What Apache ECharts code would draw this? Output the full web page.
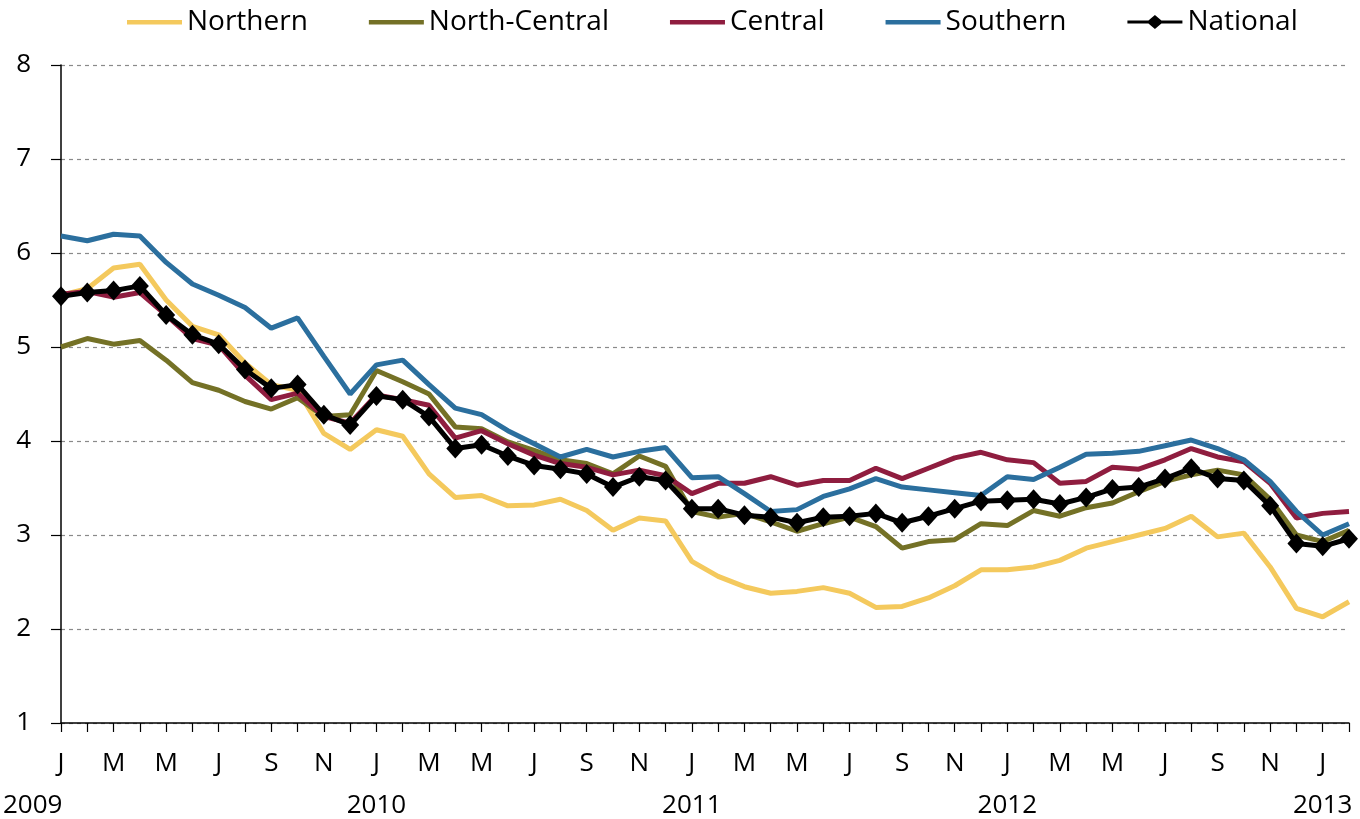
<!DOCTYPE html>
<html>
<head>
<meta charset="utf-8">
<script src="https://cdn.jsdelivr.net/npm/echarts@6/dist/echarts.min.js"></script>
<style>
html,body{margin:0;padding:0;background:#fff;}
#chart{width:1360px;height:819px;}
</style>
</head>
<body>
<div id="chart"></div>
<script>
const monthLetters = ['J','F','M','A','M','J','J','A','S','O','N','D'];
const yearLabels = ['2009','2010','2011','2012','2013'];
const nMonths = 50; // Jan 2009 .. Feb 2013
const categories = [];
const yearCats = [];
for (let i = 0; i < nMonths; i++) {
  categories.push(monthLetters[i % 12]);
  yearCats.push(yearLabels[Math.floor(i / 12)]);
}

const northern = [5.55,5.62,5.84,5.88,5.50,5.22,5.13,4.83,4.60,4.54,
  4.08,3.91,4.12,4.05,3.65,3.40,3.42,3.31,3.32,3.38,
  3.26,3.05,3.18,3.15,2.72,2.56,2.45,2.38,2.40,2.44,
  2.38,2.23,2.24,2.33,2.46,2.63,2.63,2.66,2.73,2.86,
  2.93,3.00,3.07,3.20,2.98,3.02,2.66,2.22,2.13,2.29];
const northCentral = [5.00,5.09,5.03,5.07,4.86,4.62,4.54,4.42,4.34,4.46,
  4.26,4.28,4.75,4.63,4.50,4.15,4.13,3.99,3.90,3.80,
  3.76,3.65,3.84,3.73,3.25,3.19,3.23,3.14,3.04,3.12,
  3.19,3.09,2.86,2.93,2.95,3.12,3.10,3.26,3.20,3.29,
  3.34,3.46,3.57,3.64,3.69,3.64,3.38,3.00,2.93,3.05];
const central = [5.56,5.59,5.53,5.58,5.34,5.09,5.02,4.70,4.44,4.51,
  4.26,4.19,4.49,4.44,4.38,4.03,4.11,3.97,3.85,3.76,
  3.72,3.64,3.69,3.63,3.44,3.55,3.55,3.62,3.53,3.58,
  3.58,3.71,3.60,3.71,3.82,3.88,3.80,3.77,3.55,3.57,
  3.72,3.70,3.80,3.92,3.83,3.78,3.55,3.18,3.23,3.25];
const southern = [6.18,6.13,6.20,6.18,5.90,5.67,5.55,5.42,5.20,5.31,
  4.90,4.50,4.81,4.86,4.60,4.35,4.28,4.11,3.97,3.83,
  3.91,3.83,3.89,3.93,3.61,3.62,3.44,3.25,3.27,3.41,
  3.49,3.60,3.51,3.48,3.45,3.42,3.62,3.59,3.72,3.86,
  3.87,3.89,3.95,4.01,3.92,3.80,3.57,3.25,3.00,3.12];
const national = [5.54,5.58,5.60,5.65,5.34,5.13,5.03,4.76,4.56,4.60,
  4.28,4.17,4.48,4.44,4.26,3.92,3.96,3.84,3.74,3.70,
  3.65,3.51,3.62,3.58,3.28,3.28,3.21,3.19,3.13,3.19,
  3.20,3.23,3.13,3.20,3.28,3.36,3.37,3.38,3.33,3.40,
  3.49,3.51,3.60,3.71,3.60,3.58,3.31,2.91,2.88,2.96];

const FONT = 'Open Sans';
const chart = echarts.init(document.getElementById('chart'));

const BAR_ICON = 'path://M0,0 L0.01,0 Z M0,5 L55,5 L55,9.5 L0,9.5 Z M0,14 L0.01,14 Z';
const NAT_ICON = 'path://M0,5.6 L21,5.6 L27.5,0 L34,5.6 L55,5.6 L55,8.4 L34,8.4 L27.5,14 L21,8.4 L0,8.4 Z';

function lineSeries(name, data, color) {
  return {
    name: name, type: 'line', data: data, symbol: 'none', smooth: false,
    lineStyle: { color: color, width: 5 }, itemStyle: { color: color },
    emphasis: { disabled: true }
  };
}

chart.setOption({
  animation: false,
  textStyle: { fontFamily: FONT, color: '#000' },
  legend: {
    top: 3, left: 122, padding: [5, 5],
    itemGap: 61, itemWidth: 55, itemHeight: 14,
    textStyle: { fontFamily: FONT, fontSize: 28, color: '#000' },
    data: [
      { name: 'Northern', icon: BAR_ICON },
      { name: 'North-Central', icon: BAR_ICON },
      { name: 'Central', icon: BAR_ICON },
      { name: 'Southern', icon: BAR_ICON },
      { name: 'National', icon: NAT_ICON }
    ]
  },
  grid: { left: 60, right: 11, top: 65, bottom: 96, containLabel: false },
  xAxis: [{
    type: 'category', data: categories, boundaryGap: false,
    axisLine: { lineStyle: { color: '#000', width: 1.5 } },
    axisTick: { show: true, interval: 0, length: 9, lineStyle: { color: '#000', width: 1.2 } },
    axisLabel: { interval: 1, margin: 28, fontFamily: FONT, fontSize: 26, color: '#000' },
    splitLine: { show: false }
  }, {
    type: 'category', data: yearCats, boundaryGap: false, position: 'bottom', offset: 42,
    gridIndex: 0,
    axisLine: { show: false }, axisTick: { show: false },
    axisLabel: {
      interval: function (idx) { return idx % 12 === 0; },
      margin: 28, fontFamily: FONT, fontSize: 26, color: '#000',
      formatter: function (v, idx) { return idx === 0 ? '{f|' + v + '}' : v; },
      rich: { f: { width: 116, align: 'left', fontFamily: FONT, fontSize: 26, color: '#000' } }
    }
  }],
  yAxis: {
    type: 'value', min: 1, max: 8, interval: 1,
    axisLine: { show: true, lineStyle: { color: '#000', width: 1.5 } },
    axisTick: { show: true, length: 10, lineStyle: { color: '#000', width: 1.2 } },
    axisLabel: { margin: 30, fontFamily: FONT, fontSize: 26, color: '#000' },
    splitLine: { show: true, lineStyle: { color: '#8a8a8a', type: [4, 4], width: 1.2 } }
  },
  series: [
    lineSeries('Northern', northern, '#F4C95D'),
    lineSeries('North-Central', northCentral, '#747126'),
    lineSeries('Central', central, '#8F1D3F'),
    lineSeries('Southern', southern, '#2B6F9E'),
    {
      name: 'National', type: 'line', data: national, smooth: false,
      symbol: 'diamond', symbolSize: [18, 20], showAllSymbol: true, showSymbol: true,
      lineStyle: { color: '#000', width: 5 }, itemStyle: { color: '#000' },
      emphasis: { disabled: true }, z: 5
    }
  ]
});
</script>
</body>
</html>
